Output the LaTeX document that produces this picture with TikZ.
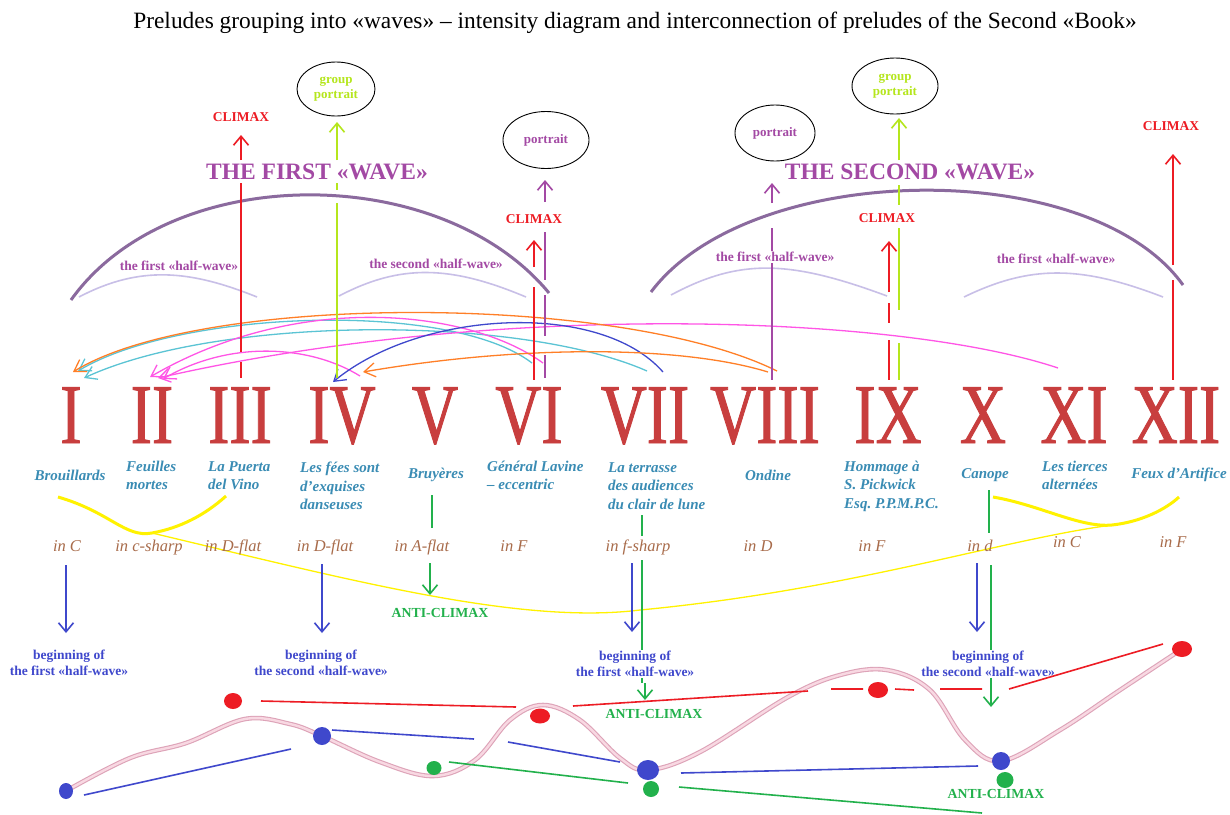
\documentclass[tikz,border=0pt]{standalone}
\usepackage{fontspec}
\setmainfont{Liberation Serif}
\newfontfamily\numfont[FakeStretch=0.75,FakeBold=1.1]{Liberation Serif}
\usetikzlibrary{arrows.meta,calc,shapes.geometric}
\definecolor{numred}{HTML}{C83E3E}
\definecolor{ttlblue}{HTML}{3A8CB4}
\definecolor{keybrown}{HTML}{A86B4A}
\definecolor{climred}{HTML}{ED1C24}
\definecolor{purp}{HTML}{A349A4}
\definecolor{arcpurp}{HTML}{8B6A9E}
\definecolor{lav}{HTML}{C8BFE7}
\definecolor{limec}{HTML}{B5E61D}
\definecolor{cyanc}{HTML}{5BC4D4}
\definecolor{orng}{HTML}{FF7F27}
\definecolor{magc}{HTML}{FF55E6}
\definecolor{bluec}{HTML}{3F48CC}
\definecolor{greenc}{HTML}{22B14C}
\definecolor{yel}{HTML}{FFF200}
\definecolor{pinkout}{HTML}{DDA3B8}
\definecolor{pinkin}{HTML}{F8D8E2}
\frenchspacing
\begin{document}
\begin{tikzpicture}[x=1pt,y=-1pt,
  num/.style={font=\numfont\fontsize{85}{85}\selectfont, text=numred, anchor=base, inner sep=0pt, text height=56pt, text depth=0pt},
  ttl/.style={font=\bfseries\itshape\fontsize{15}{18.5}\selectfont, text=ttlblue, align=left, inner sep=0pt},
  key/.style={font=\itshape\fontsize{16.5}{17}\selectfont, text=keybrown, anchor=base, inner sep=0pt},
  clim/.style={font=\bfseries\fontsize{13.5}{14}\selectfont, text=climred, fill=white, inner sep=1pt},
  wave/.style={font=\bfseries\fontsize{23.5}{24}\selectfont, text=purp, fill=white, inner sep=1pt},
  hwl/.style={font=\bfseries\fontsize{13.5}{14}\selectfont, text=purp, fill=white, inner sep=1pt},
  ell/.style={draw=black, line width=0.9pt, ellipse, inner sep=0pt, align=center, font=\bfseries\fontsize{13}{15}\selectfont},
  beg/.style={font=\bfseries\fontsize{13.5}{16.5}\selectfont, text=bluec, align=center, fill=white, inner sep=1pt},
  anti/.style={font=\bfseries\fontsize{13.8}{14}\selectfont, text=greenc, inner sep=1pt},
  barb/.style={-{Straight Barb[length=9pt,width=15pt]}},
  sbarb/.style={-{Straight Barb[length=11pt,width=14pt]}},
  conn/.style={line width=1.3pt, sbarb},
  vline/.style={line width=1.6pt},
  dot/.style={ellipse, inner sep=0pt, draw=none},
]
\path[use as bounding box, fill=white] (0,0) rectangle (1230,814);

% title
\node[font=\fontsize{23.4}{24}\selectfont, inner sep=0pt] (title) at (635,23) {Preludes grouping into «waves» – intensity diagram and interconnection of preludes of the Second «Book»};

% big arcs and half-waves
\draw[arcpurp, line width=3pt] (71,300) .. controls (170,161) and (440,161) .. (549,293);
\draw[arcpurp, line width=3pt] (651,292) .. controls (750,160) and (1090,155) .. (1183,285);
\draw[lav, line width=1.6pt] (79,297) .. controls (140,265) and (190,270) .. (257,297);
\draw[lav, line width=1.6pt] (339,296) .. controls (400,264) and (450,265) .. (526,297);
\draw[lav, line width=1.6pt] (671,295) .. controls (740,258) and (790,260) .. (887,296);
\draw[lav, line width=1.6pt] (964,297) .. controls (1030,265) and (1080,265) .. (1163,297);

% ellipses
\node[ell, minimum width=78pt, minimum height=54pt, text=limec] (e1) at (336,89) {group\\portrait};
\node[ell, minimum width=86pt, minimum height=57pt, text=purp] (e2) at (546,140) {portrait};
\node[ell, minimum width=80pt, minimum height=56pt, text=purp] (e3) at (775,133) {portrait};
\node[ell, minimum width=86pt, minimum height=56pt, text=limec] (e4) at (895,86) {group\\portrait};

% numerals
\node[num] (n1) at (71,443) {I};
\node[num] (n2) at (152,443) {II};
\node[num] (n3) at (240,443) {III};
\node[num] (n4) at (342,443) {IV};
\node[num] (n5) at (435,443) {V};
\node[num] (n6) at (529,443) {VI};
\node[num] (n7) at (645,443) {VII};
\node[num] (n8) at (765,443) {VIII};
\node[num] (n9) at (888,443) {IX};
\node[num] (n10) at (983,443) {X};
\node[num] (n11) at (1074,443) {XI};
\node[num] (n12) at (1176,443) {XII};

% connection arcs above numerals
\coordinate (a1o) at (73,372);
\coordinate (a1c) at (78,371);
\coordinate (a1d) at (84,378);
\coordinate (a2a) at (150,377);
\coordinate (a2b) at (158,378);
\coordinate (a2c) at (163,379);
\coordinate (a4b) at (333,382);
\coordinate (a4o) at (363,372);
\coordinate (s4) at (360,376);
\coordinate (s6c) at (532,363);
\coordinate (s6m) at (543,363);
\coordinate (s7c) at (647,371);
\coordinate (s7b) at (663,372);
\coordinate (s8a) at (777,371);
\coordinate (s8b) at (768,372);
\coordinate (s11) at (1058,368);
\draw[cyanc, conn] (s6c) .. controls (450,300) and (180,310) .. (a1c);
\draw[cyanc, conn] (s7c) .. controls (520,315) and (220,315) .. (a1d);
\draw[magc, conn] (s6m) .. controls (470,310) and (300,290) .. (a2a);
\draw[magc, conn] (s11) .. controls (900,315) and (500,300) .. (a2b);
\draw[magc, conn] (s4) .. controls (310,345) and (230,340) .. (a2c);
\draw[bluec, conn] (s7b) .. controls (600,300) and (420,310) .. (a4b);
\draw[orng, conn] (s8a) .. controls (620,293) and (200,293) .. (a1o);
\draw[orng, conn] (s8b) .. controls (680,345) and (520,345) .. (a4o);

% vertical climax / portrait arrows
\draw[climred, vline, barb] (241,160) -- (241,135);
\draw[climred, vline] (241,183) -- (241,352) (241,362) -- (241,378);
\draw[limec, vline, barb] (337,160) -- (337,122);
\draw[limec, vline] (337,183) -- (337,190) (337,203) -- (337,378);
\draw[climred, vline, barb] (534,267) -- (534,240);
\draw[climred, vline] (534,287) -- (534,380);
\draw[purp, vline, barb] (545,202) -- (545,180);
\draw[purp, vline] (545,232) -- (545,280) (545,295) -- (545,336) (545,355) -- (545,378);
\draw[purp, vline, barb] (772,203) -- (772,183);
\draw[purp, vline] (772,228) -- (772,380);
\draw[climred, vline, barb] (889,292) -- (889,241);
\draw[climred, vline] (889,303) -- (889,323) (889,340) -- (889,380);
\draw[limec, vline, barb] (899,160) -- (899,118);
\draw[limec, vline] (899,185) -- (899,205) (899,228) -- (899,310) (899,343) -- (899,380);
\draw[climred, vline, barb] (1173,265) -- (1173,154);
\draw[climred, vline] (1173,280) -- (1173,380);

% labels on top
\node[clim] (c3) at (241,117) {CLIMAX};
\node[clim] (c6) at (534,219) {CLIMAX};
\node[clim] (c9) at (887,218) {CLIMAX};
\node[clim] (c12) at (1171,126) {CLIMAX};
\node[wave] (w1) at (317,172) {THE FIRST «WAVE»};
\node[wave] (w2) at (910,172) {THE SECOND «WAVE»};
\node[hwl] (h1) at (179,266) {the first «half-wave»};
\node[hwl] (h2) at (436,264) {the second «half-wave»};
\node[hwl] (h3) at (775,257) {the first «half-wave»};
\node[hwl] (h4) at (1056,259) {the first «half-wave»};

% titles
\node[ttl] (t1) at (70,475) {Brouillards};
\node[ttl, anchor=west] (t2) at (126,475.5) {Feuilles\\mortes};
\node[ttl, anchor=west] (t3) at (208,475.5) {La Puerta\\del Vino};
\node[ttl, anchor=west] (t4) at (300,486) {Les fées sont\\d’exquises\\danseuses};
\node[ttl] (t5) at (436,475) {Bruyères};
\node[ttl, anchor=west] (t6) at (487,475.5) {Général Lavine\\– eccentric};
\node[ttl, anchor=west] (t7) at (608,486) {La terrasse\\des audiences\\du clair de lune};
\node[ttl] (t8) at (768,475) {Ondine};
\node[ttl, anchor=west] (t9) at (844,486) {Hommage à\\S. Pickwick\\Esq. P.P.M.P.C.};
\node[ttl] (t10) at (985,475) {Canope};
\node[ttl, anchor=west] (t11) at (1042,475.5) {Les tierces\\alternées};
\node[ttl] (t12) at (1179,475) {Feux d’Artifice};

% yellow curves
\draw[yel, line width=3pt] (58,497) .. controls (110,512) and (125,538) .. (152,533) .. controls (180,528) and (205,515) .. (226,496);
\draw[yel, line width=1.3pt] (152,533) .. controls (350,580) and (520,625) .. (640,610) .. controls (850,590) and (1000,540) .. (1112,525);
\draw[yel, line width=3pt] (993,497) .. controls (1040,505) and (1080,528) .. (1112,525) .. controls (1140,522) and (1165,510) .. (1179,497);

% keys
\node[key] (k1) at (67,551) {in C};
\node[key] (k2) at (149,551) {in c-sharp};
\node[key] (k3) at (233,551) {in D-flat};
\node[key] (k4) at (325,551) {in D-flat};
\node[key] (k5) at (422,551) {in A-flat};
\node[key] (k6) at (514,551) {in F};
\node[key] (k7) at (638,551) {in f-sharp};
\node[key] (k8) at (758,551) {in D};
\node[key] (k9) at (872,551) {in F};
\node[key] (k10) at (980,551) {in d};
\node[key] (k11) at (1067,547) {in C};
\node[key] (k12) at (1173,547) {in F};

% green lines
\draw[greenc, vline] (432,495) -- (432,528);
\draw[greenc, vline, barb] (430,563) -- (430,595);
\draw[greenc, vline] (642,515) -- (642,536);
\draw[greenc, vline] (642,560) -- (642,683);
\draw[greenc, vline, barb] (645,683) -- (645,700);
\draw[greenc, vline] (989,490) -- (989,533);
\draw[greenc, vline] (991,565) -- (991,685);
\draw[greenc, vline, barb] (991,685) -- (991,707);

% blue down arrows
\draw[bluec, vline, barb] (66,565) -- (66,633);
\draw[bluec, vline, barb] (322,564) -- (322,633);
\draw[bluec, vline, barb] (632,563) -- (632,632);
\draw[bluec, vline, barb] (977,563) -- (977,632);

\node[beg] (b1) at (69,663) {beginning of\\the first «half-wave»};
\node[beg] (b4) at (321,663) {beginning of\\the second «half-wave»};
\node[beg] (b7) at (635,664) {beginning of\\the first «half-wave»};
\node[beg] (b10) at (988,664) {beginning of\\the second «half-wave»};

\node[anti] (ac5) at (440,613) {ANTI-CLIMAX};
\node[anti] (ac7) at (654,714) {ANTI-CLIMAX};
\node[anti] (ac10) at (996,794) {ANTI-CLIMAX};

% intensity curve
\draw[pinkout, line width=4.6pt, line cap=round] plot[smooth, tension=0.6] coordinates {(66,791) (130,758) (186,743) (245,719) (290,724) (322,736) (380,762) (433,776) (475,760) (510,720) (543,705) (580,720) (620,758) (648,770) (700,752) (788,697) (840,675) (887,670) (930,690) (965,740) (1001,761) (1060,730) (1120,690) (1182,649)};
\draw[pinkin, line width=2.4pt, line cap=round] plot[smooth, tension=0.6] coordinates {(66,791) (130,758) (186,743) (245,719) (290,724) (322,736) (380,762) (433,776) (475,760) (510,720) (543,705) (580,720) (620,758) (648,770) (700,752) (788,697) (840,675) (887,670) (930,690) (965,740) (1001,761) (1060,730) (1120,690) (1182,649)};

% straight trend lines
\draw[bluec, line width=1.6pt] (84,795) -- (291,749);
\draw[climred, line width=1.6pt] (261,701) -- (516,707);
\draw[bluec, line width=1.6pt] (332,730) -- (474,739);
\draw[greenc, line width=1.6pt] (449,762) -- (628,783);
\draw[bluec, line width=1.6pt] (508,742) -- (620,762);
\draw[climred, line width=1.6pt] (573,706) -- (808,691) (831,689) -- (863,689) (895,689) -- (914,690) (940,689) -- (982,689) (1009,689) -- (1163,644);
\draw[bluec, line width=1.6pt] (681,773) -- (978,766);
\draw[greenc, line width=1.6pt] (679,787) -- (982,813);

% dots
\node[dot, fill=bluec, minimum width=14pt, minimum height=16pt] (d1) at (66,791) {};
\node[dot, fill=climred, minimum width=18pt, minimum height=16pt] (d2) at (233,701) {};
\node[dot, fill=bluec, minimum width=18pt, minimum height=18pt] (d3) at (322,736) {};
\node[dot, fill=greenc, minimum width=15pt, minimum height=14pt] (d4) at (434,768) {};
\node[dot, fill=climred, minimum width=20pt, minimum height=15pt] (d5) at (540,716) {};
\node[dot, fill=bluec, minimum width=22pt, minimum height=20pt] (d6) at (648,770) {};
\node[dot, fill=greenc, minimum width=16pt, minimum height=16pt] (d7) at (651,789) {};
\node[dot, fill=climred, minimum width=20pt, minimum height=16pt] (d8) at (878,690) {};
\node[dot, fill=bluec, minimum width=18pt, minimum height=18pt] (d9) at (1001,761) {};
\node[dot, fill=greenc, minimum width=17pt, minimum height=16pt] (d10) at (1005,780) {};
\node[dot, fill=climred, minimum width=20pt, minimum height=16pt] (d11) at (1182,649) {};
\end{tikzpicture}
\end{document}
